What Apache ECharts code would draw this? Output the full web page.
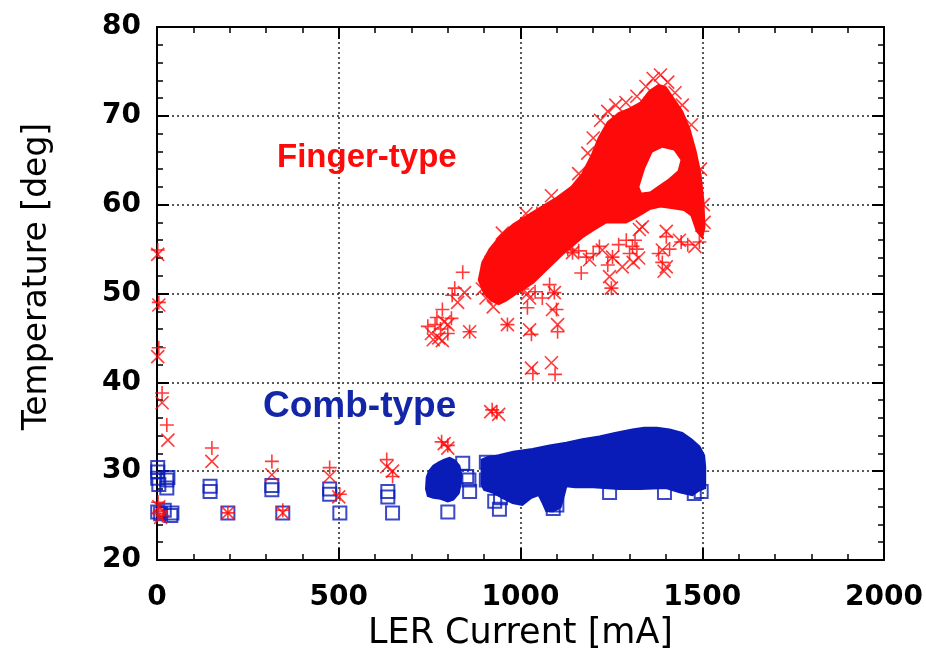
<!DOCTYPE html>
<html>
<head>
<meta charset="utf-8">
<script src="https://cdn.jsdelivr.net/npm/echarts@6/dist/echarts.min.js"></script>
<style>
html,body{margin:0;padding:0;background:#fff;}
#c{width:926px;height:661px;}
</style>
</head>
<body>
<div id="c"></div>
<script>
// ---- axis ticks ----
const xTicks = [0, 500, 1000, 1500, 2000];
const yTicks = [20, 30, 40, 50, 60, 70, 80];

// ---- Finger-type (red) : '+' markers [current mA, temperature deg] ----
const fingerPlus = [
  [2,54.9],[5,49],[5,43.9],[14,38.8],[27,35.2],[3,26.5],[8,25.5],[15,25],[2,25.2],
  [151,32.6],[316,31.1],[475,30.4],[632,31.3],[648,29.4],[195,25.3],[346,25.6],[503,27.4],
  [783,33.3],[800,32.9],[922,36.9],[935,36.6],
  [745,46.3],[765,46.5],[780,46],[800,45.5],[770,47.3],[810,47.2],[785,48.2],
  [910,53.2],[841,52.4],[819,50.6],[812,49.8],[860,45.7],[964,46.5],
  [1019,48.4],[1030,45.4],[1102,45.7],[1099,48.2],[1034,41],[1095,40.9],[1093,50.1],
  [1057,58.6],[1143,54.6],[1181,54.1],[1217,55.3],[1253,54.1],[1167,52.3],[1250,50.6],
  [1291,56],[1320,55],[1308,55.3],[1390,53.5],[1401,56.4],[1442,55.8],[1492,55.8],
  [1005,50.5],[1040,50.2],[1060,49.5],[1080,51],[1130,55],[1160,54.8],[1200,54.5],
  [1240,53.2],[1270,55.5],[1300,54.5],[1315,56],[1380,54.5],[1410,55],[1460,55.5],[1500,57],
  [920,54.2],[985,57],[1045,59],[1115,60.5]
];

// ---- Finger-type (red) : 'x' markers ----
const fingerCross = [
  [2,54.4],[5,48.7],[2,42.9],[14,37.7],[30,33.5],[5,26],[10,24.8],
  [151,31.1],[316,29.6],[475,29.4],[632,30.5],[648,30],[195,25.3],[346,25.3],[500,27.1],
  [800,32.6],[790,33.1],[918,36.7],[940,36.4],
  [755,45.5],[775,45],[790,46.8],[760,44.8],[785,44.7],[800,46.5],
  [846,50.1],[827,49],[860,45.7],[964,46.5],[1025,45.9],[1019,50],[1088,48.2],[1102,46.5],
  [1030,41.6],[1085,42.2],[1093,50.1],[1250,50.6],[1245,51.9],[1143,54.6],[1190,53.8],
  [1225,54.9],[1253,54.1],[1327,57.2],[1335,57.5],[1401,57],[1437,56],[1390,54.9],[1401,53],
  [905,49.5],[925,48.5],[895,50.5],[1025,49.5],[1280,53],[1325,54],[1310,53.5],
  [1395,52.5],[1480,55.3],
  [950,56.8],[1015,59],[1085,61],
  [1160,63.5],[1185,65.8],[1200,67.5],[1220,69.5],[1240,70.5],[1262,71.2],[1290,71.5],
  [1320,72.2],[1345,73.3],[1365,74.2],[1385,74.6],[1405,73.8],[1425,72.6],[1445,71.2],
  [1470,69],[1495,64],[1503,60],[1505,58]
];

// ---- Finger-type dense band outline and inner gap ----
const fingerDense = [
  [885,51.5],[895,53.5],[915,55],[945,56.5],[980,57.8],[1020,58.8],[1060,59.8],[1100,60.8],
  [1140,62],[1170,63.5],[1195,65.5],[1215,67.5],[1240,69.3],[1270,70.3],[1300,70.8],
  [1330,71.5],[1355,72.8],[1380,73.5],[1400,73.2],[1420,72],[1445,70.5],[1465,68.5],
  [1482,66],[1495,63.5],[1503,60.5],[1506,57.5],[1500,56.3],[1485,57],[1470,58.8],
  [1450,59.4],[1420,59.6],[1385,59.8],[1355,59.5],[1335,59],[1310,58.4],[1290,58],
  [1260,58],[1236,58],[1215,57.5],[1195,57],[1170,56.3],[1150,55.6],[1126,54.8],
  [1105,54],[1070,52.6],[1035,51.2],[1005,50.4],[985,49.9],[960,49.2],[940,48.8],
  [920,49.2],[900,50]
];
const fingerGap = [
  [1330,62],[1345,64],[1365,65.8],[1390,66.3],[1420,66],[1437,65],[1430,63.9],
  [1405,63],[1380,62.3],[1355,61.6],[1335,61.5]
];

// ---- Comb-type (blue) : square markers ----
const combSquares = [
  [2,30.4],[2,29.9],[2,29.2],[5,28.5],[27,29],[27,28.1],[30,29.3],[2,25.4],[10,25.2],
  [41,25.3],[38,25],[20,25.6],
  [146,28.3],[146,27.7],[195,25.3],[316,28.4],[316,27.9],[346,25.3],[475,28],[475,27.4],
  [503,25.3],[635,27.7],[635,27.1],[648,25.3],
  [800,25.4],[841,30.9],[852,29.4],[860,27.7],[858,29],[906,31],[906,29],[929,26.6],
  [942,25.7],[945,27],[1000,27.5],[1090,25.8],[1100,26.2],[1245,27.6],[1396,27.6],
  [1497,27.7],[1478,27.5]
];

// ---- Comb-type dense regions ----
const combDenseLow = [
  [742,29.3],[748,30],[760,30.6],[775,31],[790,31.3],[805,31.5],[820,31.2],[832,30.6],
  [838,29.5],[835,28.5],[830,27.5],[815,26.8],[800,26.6],[780,26.9],[760,27],[745,27.2],[740,28]
];
const combDenseHigh = [
  [893,31.3],[910,31.6],[940,31.8],[980,32.2],[1033,32.5],[1080,32.9],[1126,33.2],
  [1170,33.6],[1217,33.9],[1260,34.3],[1308,34.7],[1340,34.9],[1375,34.9],[1410,34.7],
  [1445,34.3],[1470,33.6],[1492,32.8],[1505,31.8],[1508,30.5],[1508,28.1],[1490,27.8],
  [1473,27.3],[1440,27.6],[1400,28.1],[1330,28],[1270,28],[1200,28.2],[1150,28.2],
  [1126,28.3],[1118,27],[1110,25.9],[1090,25.5],[1071,25.5],[1060,26.5],[1050,27.3],
  [1030,27],[1005,26.2],[978,26.4],[950,27],[923,27.6],[900,27.9],[893,28.5]
];

const RED = '#ff0a0a';
const BLUE = '#0a1cb8';
const BLUE_TXT = '#1426a8';

function polySeries(outline, fill, z) {
  return {
    type: 'custom',
    data: outline,
    encode: { x: 0, y: 1 },
    z: z,
    silent: true,
    renderItem: function (params, api) {
      if (params.dataIndex !== 0) return;
      const pts = outline.map(function (p) { return api.coord(p); });
      return { type: 'polygon', shape: { points: pts }, style: { fill: fill, stroke: fill, lineWidth: 2 } };
    }
  };
}

const chart = echarts.init(document.getElementById('c'), null, { renderer: 'canvas' });

const tickFont = { fontFamily: 'DejaVu Sans', fontWeight: 'bold', fontSize: 28, color: '#000' };
const lineStyle = { color: '#000', width: 2 };
const plain = function (v) { return String(v); };

function xAxis(pos, showLabel) {
  return {
    type: 'value', position: pos, min: xTicks[0], max: xTicks[xTicks.length - 1],
    interval: xTicks[1] - xTicks[0],
    axisLine: { show: true, onZero: false, lineStyle: lineStyle },
    axisTick: { show: true, inside: true, length: 12, lineStyle: lineStyle },
    minorTick: { show: true, splitNumber: 5, length: 6, lineStyle: { color: '#000', width: 1.5 } },
    splitLine: { show: showLabel, lineStyle: { color: '#222', width: 1.5, type: [2, 3] } },
    axisLabel: showLabel ? Object.assign({ show: true, margin: 24, formatter: plain }, tickFont) : { show: false },
    name: showLabel ? 'LER Current [mA]' : '',
    nameLocation: 'middle', nameGap: 50,
    nameTextStyle: { fontFamily: 'DejaVu Sans', fontSize: 35, color: '#000' }
  };
}
function yAxis(pos, showLabel) {
  return {
    type: 'value', position: pos, min: yTicks[0], max: yTicks[yTicks.length - 1],
    interval: yTicks[1] - yTicks[0],
    axisLine: { show: true, onZero: false, lineStyle: lineStyle },
    axisTick: { show: true, inside: true, length: 12, lineStyle: lineStyle },
    minorTick: { show: true, splitNumber: 5, length: 6, lineStyle: { color: '#000', width: 1.5 } },
    splitLine: { show: showLabel, lineStyle: { color: '#222', width: 1.5, type: [2, 3] } },
    axisLabel: showLabel ? Object.assign({ show: true, margin: 16, formatter: plain }, tickFont) : { show: false },
    name: showLabel ? 'Temperature [deg]' : '',
    nameLocation: 'middle', nameGap: 103,
    nameTextStyle: { fontFamily: 'DejaVu Sans', fontSize: 33, color: '#000', padding: [0, 0, 0, 34] }
  };
}

const plusSym = 'path://M0,6L12,6M6,0L6,12';
const crossSym = 'path://M0,0L12,12M12,0L0,12';

chart.setOption({
  animation: false,
  backgroundColor: '#fff',
  grid: { left: 157, right: 41, top: 27, bottom: 101, containLabel: false },
  xAxis: [xAxis('bottom', true), xAxis('top', false)],
  yAxis: [yAxis('left', true), yAxis('right', false)],
  series: [
    polySeries(combDenseLow, BLUE, 2),
    polySeries(combDenseHigh, BLUE, 2),
    {
      type: 'scatter', data: combSquares, symbol: 'rect', symbolSize: 13, z: 3,
      itemStyle: { color: 'rgba(0,0,0,0)', borderColor: BLUE, borderWidth: 2 }, silent: true
    },
    polySeries(fingerDense, RED, 4),
    polySeries(fingerGap, '#fff', 5),
    {
      type: 'scatter', data: fingerPlus, symbol: plusSym, symbolSize: 14, z: 6,
      itemStyle: { color: 'rgba(0,0,0,0)', borderColor: RED, borderWidth: 1.6 }, silent: true
    },
    {
      type: 'scatter', data: fingerCross, symbol: crossSym, symbolSize: 13, z: 6,
      itemStyle: { color: 'rgba(0,0,0,0)', borderColor: RED, borderWidth: 1.6 }, silent: true
    }
  ],
  graphic: [
    { type: 'text', left: 277, top: 141, z: 10,
      style: { text: 'Finger-type', fill: RED, fontFamily: 'Liberation Sans', fontWeight: 'bold', fontSize: 33 } },
    { type: 'text', left: 263, top: 388, z: 10,
      style: { text: 'Comb-type', fill: BLUE_TXT, fontFamily: 'Liberation Sans', fontWeight: 'bold', fontSize: 37 } }
  ]
});
</script>
</body>
</html>
